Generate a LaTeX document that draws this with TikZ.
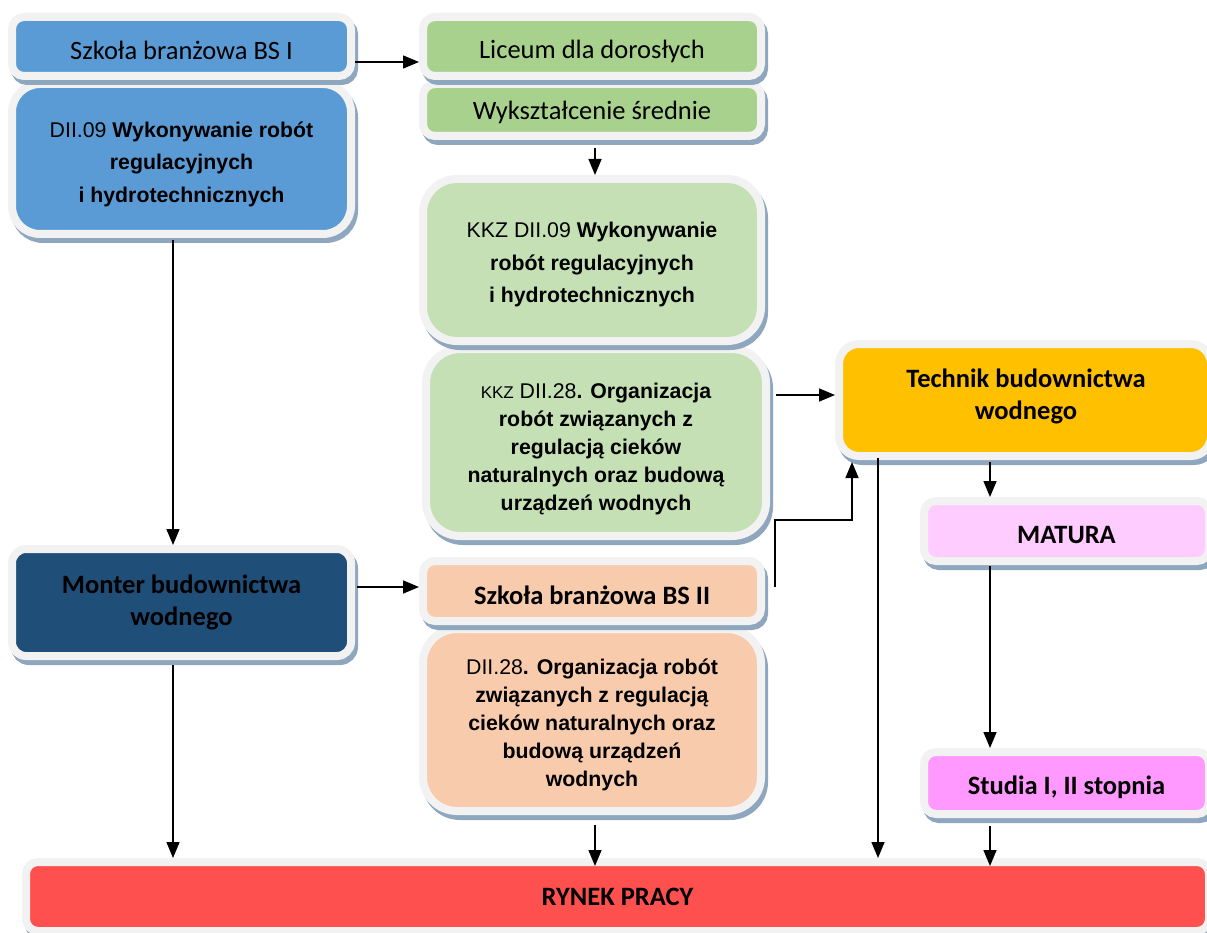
\documentclass[tikz,border=0pt]{standalone}
\usepackage{fontspec}
\setmainfont{Carlito}
\newfontfamily\arialf{Liberation Sans}
\usetikzlibrary{shadows,calc,arrows.meta}
\definecolor{framec}{HTML}{F2F2F2}
\definecolor{shadowc}{HTML}{8EA7BF}
\definecolor{blueA}{HTML}{5B9BD5}
\definecolor{greenA}{HTML}{A9D18E}
\definecolor{greenB}{HTML}{C5E0B4}
\definecolor{orangeA}{HTML}{FFC000}
\definecolor{pinkA}{HTML}{FFCCFF}
\definecolor{pinkB}{HTML}{FF99FF}
\definecolor{navyA}{HTML}{1F4E79}
\definecolor{peachA}{HTML}{F8CBAD}
\definecolor{redA}{HTML}{FF5050}
\newcommand{\basel}[2]{\raisebox{-#1}[0pt][0pt]{#2}}
\tikzset{
  box/.style={draw=framec, line width=8pt, rounded corners=#1, inner sep=0pt, align=center,
    general shadow={draw=shadowc, fill=shadowc, line width=8pt, rounded corners=#1,
      shadow xshift=3pt, shadow yshift=-5pt}},
  box/.default=12pt,
  txt/.style={inner sep=0pt, align=center},
  arr/.style={line width=1.5pt, -{Triangle[length=16pt,width=13pt]}},
  ctitle/.style={font=\fontsize{26.5}{31}\selectfont},
  btitle/.style={font=\fontsize{26.5}{32}\selectfont\bfseries},
  bodyA/.style={txt, font=\arialf\fontsize{21.3}{32.5}\selectfont},
  bodyB/.style={txt, font=\arialf\fontsize{21.3}{28}\selectfont},
}
\begin{document}
\begin{tikzpicture}[x=1pt,y=-1pt]
\useasboundingbox (0,0) rectangle (1207,933);

% left column
\node[box=28pt, fill=blueA, minimum width=339pt, minimum height=150pt] (d09) at (181.5,159) {};
\node[bodyA] (d09t) at (181.5,164)
  {DII.09 \textbf{Wykonywanie robót}\\ \textbf{regulacyjnych}\\ \textbf{i hydrotechnicznych}};
\node[box, fill=blueA, minimum width=339pt, minimum height=59pt, ctitle] (bs1) at (181.5,46.5)
  {\basel{13.5pt}{Szkoła branżowa BS I}};
\node[box=14pt, fill=navyA, minimum width=339pt, minimum height=107pt, btitle] (mon) at (181.5,602.5)
  {Monter budownictwa\\ wodnego};

% middle column
\node[box, fill=greenA, minimum width=338pt, minimum height=52pt, ctitle] (wyk) at (592,110)
  {\basel{10pt}{Wykształcenie średnie}};
\node[box, fill=greenA, minimum width=338pt, minimum height=59pt, ctitle] (lic) at (592,46.5)
  {\basel{12.5pt}{Liceum dla dorosłych}};
\node[box=34pt, fill=greenB, minimum width=340pt, minimum height=187pt] (kkz28) at (596,442.5) {};
\node[bodyB] (kkz28t) at (596,448.5)
  {{\fontsize{17}{20}\selectfont KKZ} DII.28\textbf{. Organizacja}\\ \textbf{robót związanych z}\\ \textbf{regulacją cieków}\\ \textbf{naturalnych oraz budową}\\ \textbf{urządzeń wodnych}};
\node[box=34pt, fill=greenB, minimum width=338pt, minimum height=162pt] (kkz09) at (592,260) {};
\node[bodyA] (kkz09t) at (592,264.5)
  {KKZ DII.09 \textbf{Wykonywanie}\\ \textbf{robót regulacyjnych}\\ \textbf{i hydrotechnicznych}};
\node[box=34pt, fill=peachA, minimum width=338pt, minimum height=182pt] (d28) at (592,720) {};
\node[bodyB] (d28t) at (592,725)
  {DII.28\textbf{. Organizacja robót}\\ \textbf{związanych z regulacją}\\ \textbf{cieków naturalnych oraz}\\ \textbf{budową urządzeń}\\ \textbf{wodnych}};
\node[box, fill=peachA, minimum width=338pt, minimum height=60pt, btitle] (bs2) at (592,591)
  {\basel{13pt}{Szkoła branżowa BS II}};

% right column
\node[box=20pt, fill=orangeA, minimum width=372pt, minimum height=112pt] (tech) at (1025,400) {};
\node[btitle, txt] (techtxt) at (1026,396) {Technik budownictwa\\ wodnego};
\node[box, fill=pinkA, minimum width=285pt, minimum height=60pt, btitle] (mat) at (1066.5,531) {\basel{12pt}{MATURA}};
\node[box, fill=pinkB, minimum width=285pt, minimum height=62pt, btitle] (stu) at (1066.5,783) {\basel{11pt}{Studia I, II stopnia}};

% bottom
\node[box, fill=redA, minimum width=1183pt, minimum height=69pt, btitle] (ryn) at (617.5,896.5) {RYNEK PRACY};

% connectors
\draw[arr] ([yshift=-15.5pt]bs1.east) -- ([yshift=-15.5pt]lic.west);
\draw[arr] ($(wyk.south)+(3pt,-8pt)$) -- ($(kkz09.north)+(3pt,0pt)$);
\draw[arr] ($(d09.south)+(-8.5pt,-2pt)$) -- ($(mon.north)+(-8.5pt,0pt)$);
\draw[arr] ($(kkz28.east)+(6pt,47.5pt)$) -- ($(tech.west)+(0pt,5pt)$);
\draw[arr] ($(bs2.east)+(10pt,4pt)$) |- ($(tech.south west)+(17pt,-60pt)$) -- ($(tech.south west)+(17pt,-2pt)$);
\draw[arr] ($(tech.south)+(-35pt,-2pt)$) -- ($(mat.north)+(-76.5pt,0pt)$);
\draw[arr] ($(mat.south)+(-76.5pt,-1pt)$) -- ($(stu.north)+(-76.5pt,0pt)$);
\draw[arr] ($(tech.south west)+(43pt,2pt)$) -- ($(ryn.north)+(260.5pt,0pt)$);
\draw[arr] ($(mon.south)+(-8.5pt,-5pt)$) -- ($(ryn.north)+(-444.5pt,0pt)$);
\draw[arr] ($(d28.south)+(3pt,-10pt)$) -- ($(ryn.north)+(-22.5pt,-8pt)$);
\draw[arr] ($(stu.south)+(-76.5pt,-8pt)$) -- ($(ryn.north)+(372.5pt,-8pt)$);
\draw[arr] ($(mon.east)+(2pt,15.5pt)$) -- ($(bs2.west)+(0pt,4pt)$);
\end{tikzpicture}
\end{document}
